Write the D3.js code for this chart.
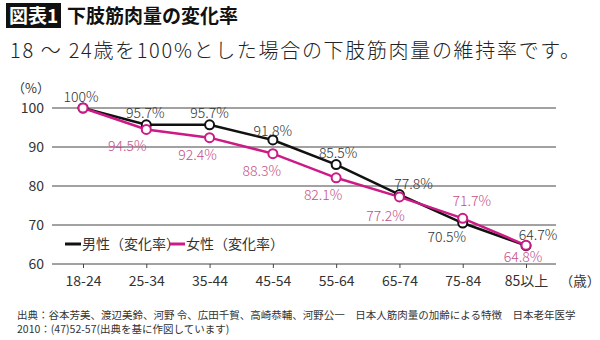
<!DOCTYPE html>
<html><head><meta charset="utf-8">
<script src="https://cdn.jsdelivr.net/npm/d3@7"></script>
<style>
body{margin:0;background:#fff;}
text{font-family:"Noto Sans CJK JP","Noto Sans",sans-serif;}
</style></head>
<body><svg id="c" width="600" height="340"></svg>
<script>
const categories = ["18-24","25-34","35-44","45-54","55-64","65-74","75-84","85以上"];
const maleValues = [100,95.7,95.7,91.8,85.5,77.8,70.5,64.7];
const femaleValues = [100,94.5,92.4,88.3,82.1,77.2,71.7,64.8];
const yTicks = [60,70,80,90,100];
const seriesNames = ["男性（変化率）","女性（変化率）"];
// label offsets (position styling)
const maleOffsets = [[-2,-11],[-1,-12],[0,-12],[0,-9],[2,-11],[14,-10],[-16,14],[12,-11]];
const femaleOffsets = [null,[-19,17],[-12,17],[-11,17],[-13,17],[-14,19],[9,-17],[-3,12]];

const svg = d3.select("#c");
const x = d3.scalePoint().domain(categories).range([83,526]);
const y = d3.scaleLinear().domain([60,100]).range([264,108]);
const maleColor = "#111", femaleColor = "#cc1a86", femaleText = "#c4508a";

// Title
svg.append("rect").attr("x",6).attr("y",3).attr("width",55).attr("height",25).attr("fill","#111");
svg.append("text").attr("x",33.5).attr("y",23).attr("text-anchor","middle").attr("fill","#fff")
  .attr("font-size",19).attr("font-weight",700).text("図表1");
svg.append("text").attr("x",67).attr("y",23).attr("fill","#111")
  .attr("font-size",19).attr("font-weight",700).text("下肢筋肉量の変化率");
svg.append("text").attr("x",10).attr("y",58).attr("fill","#222")
  .attr("font-size",20).attr("font-weight",300).attr("textLength",570).attr("lengthAdjust","spacing")
  .text("18 ～ 24歳を100%とした場合の下肢筋肉量の維持率です。");

// grid
const g = svg.append("g");
g.selectAll("line.grid").data(yTicks).join("line")
  .attr("x1",52).attr("x2",556).attr("y1",d=>y(d)).attr("y2",d=>y(d))
  .attr("stroke","#444").attr("stroke-width",1);
// y axis labels
const yAxis = d3.axisLeft(y).tickValues(yTicks).tickSize(0).tickPadding(0);
const ya = svg.append("g").attr("transform","translate(44,0)").call(yAxis);
ya.select(".domain").remove();
ya.selectAll("text").attr("font-size",14).attr("fill","#333").attr("font-family","'Noto Sans CJK JP',sans-serif").attr("dy","0.35em");
svg.append("text").attr("x",31).attr("y",93).attr("text-anchor","middle").attr("font-size",13).attr("fill","#333").text("（%）");

// x axis
const xAxis = d3.axisBottom(x).tickSize(4).tickPadding(8);
const xa = svg.append("g").attr("transform","translate(0,264)").call(xAxis);
xa.select(".domain").remove();
xa.selectAll("line").attr("stroke","#444");
xa.selectAll("text").attr("font-size",14).attr("fill","#333").attr("font-family","'Noto Sans CJK JP',sans-serif");
svg.append("text").attr("x",580).attr("y",286).attr("text-anchor","middle").attr("font-size",13.5).attr("fill","#333").text("（歳）");

// lines
const line = d3.line().x((d,i)=>x(categories[i])).y(d=>y(d));
const series = [
  {vals:maleValues,color:maleColor,tc:"#333",off:maleOffsets},
  {vals:femaleValues,color:femaleColor,tc:femaleText,off:femaleOffsets}
];
series.forEach(s=>{
  svg.append("path").datum(s.vals).attr("d",line).attr("fill","none")
    .attr("stroke",s.color).attr("stroke-width",2.5);
});
series.forEach(s=>{
  svg.append("g").selectAll("circle").data(s.vals).join("circle")
    .attr("cx",(d,i)=>x(categories[i])).attr("cy",d=>y(d)).attr("r",4.5)
    .attr("fill","#fff").attr("stroke",s.color).attr("stroke-width",2);
});
// labels
series.forEach(s=>{
  const items = s.vals.map((v,i)=>({v,i,off:s.off[i]})).filter(d=>d.off);
  svg.append("g").selectAll("text").data(items).join("text")
    .attr("x",d=>x(categories[d.i])+d.off[0])
    .attr("y",d=>y(d.v)+d.off[1])
    .attr("text-anchor","middle").attr("dy","0.35em")
    .attr("font-size",14).attr("font-weight",300).attr("fill",s.tc)
    .text(d=>d.v+"%");
});

// legend
const lg = svg.append("g");
[[65,seriesNames[0],maleColor],[169,seriesNames[1],femaleColor]].forEach(([lx,name,c])=>{
  lg.append("line").attr("x1",lx).attr("x2",lx+16).attr("y1",244).attr("y2",244).attr("stroke",c).attr("stroke-width",3);
  lg.append("text").attr("x",lx+17).attr("y",249).attr("font-size",14).attr("fill","#333").text(name);
});

// source
svg.append("text").attr("x",17).attr("y",319).attr("font-size",10.5).attr("fill","#333")
  .text("出典：谷本芳美、渡辺美鈴、河野 令、広田千賀、高崎恭輔、河野公一　日本人筋肉量の加齢による特徴　日本老年医学");
svg.append("text").attr("x",17).attr("y",333).attr("font-size",10.5).attr("fill","#333")
  .text("2010：(47)52-57(出典を基に作図しています)");
</script></body></html>
